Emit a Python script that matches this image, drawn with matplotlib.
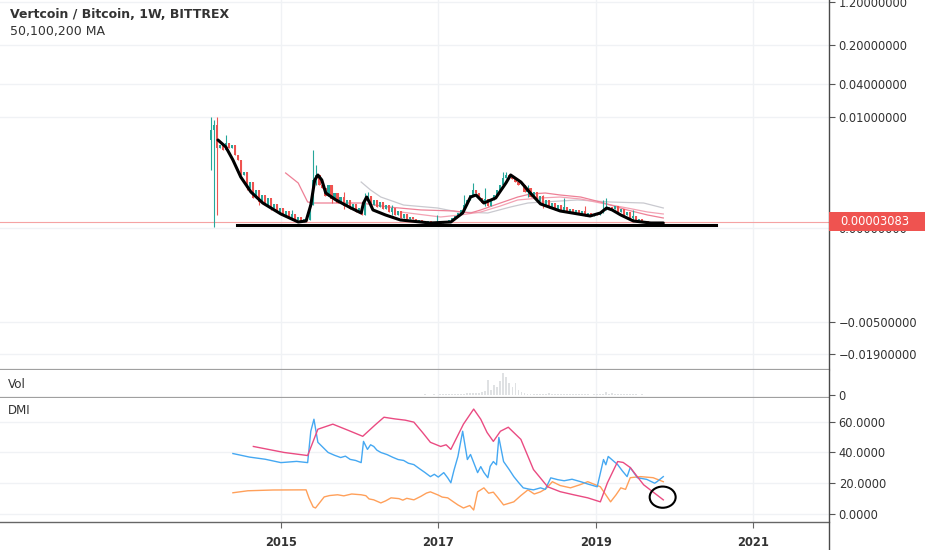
import numpy as np
import matplotlib
matplotlib.use('Agg')
import matplotlib.pyplot as plt
from matplotlib.ticker import FixedLocator, FuncFormatter
from matplotlib.lines import Line2D
from matplotlib.patches import Rectangle, Ellipse

plt.rcParams['font.family'] = ['DejaVu Sans']

# ---- candles (2-week steps, first one mid Feb 2014) ----
candle_start = 2014.11
candle_step = 14 / 365.25
first_open = 0.0038
closes = [
    0.00581, 0.00717, 0.00270, 0.00307, 0.00247, 0.00334, 0.00270, 0.00307, 0.00199, 0.00160,
    0.000808, 0.000929, 0.000429, 0.000578, 0.000249, 0.000386, 0.000195, 0.000295, 0.000160, 0.000249,
    0.000130, 0.000172, 0.0000946, 0.000130, 0.0000718, 0.000103, 0.0000516, 0.0000791, 0.0000395, 0.0000581,
    0.0000284, 0.0000454, 0.0000395, 0.000160, 0.000637, 0.000808, 0.000499, 0.000429, 0.000279, 0.000499,
    0.000234, 0.000329, 0.000183, 0.000263, 0.000150, 0.000221, 0.000121, 0.000172, 0.0000946, 0.000130,
    0.0000718, 0.000221, 0.000279, 0.000160, 0.000221, 0.000140, 0.000195, 0.000121, 0.000160, 0.0000946,
    0.000130, 0.0000718, 0.000103, 0.0000516, 0.0000791, 0.0000454, 0.0000581, 0.0000454, 0.0000338, 0.0000395,
    0.0000338, 0.0000284, 0.0000338, 0.0000284, 0.0000231, 0.0000284, 0.0000231, 0.0000284, 0.0000338, 0.0000395,
    0.0000516, 0.0000648, 0.0000867, 0.000112, 0.000160, 0.000221, 0.000295, 0.000386, 0.000329, 0.000249,
    0.000183, 0.000234, 0.000150, 0.000221, 0.000295, 0.000386, 0.000499, 0.000701, 0.000808, 0.000735,
    0.000669, 0.000578, 0.000499, 0.000499, 0.000347, 0.000429, 0.000263, 0.000347, 0.000208, 0.000279,
    0.000160, 0.000221, 0.000130, 0.000183, 0.000112, 0.000160, 0.000103, 0.000140, 0.0000946, 0.000121,
    0.0000867, 0.000112, 0.0000791, 0.000103, 0.0000718, 0.0000867, 0.0000648, 0.0000791, 0.0000718, 0.0000867,
    0.000112, 0.000130, 0.000140, 0.000121, 0.000150, 0.0000946, 0.000121, 0.0000718, 0.0000946, 0.0000516,
    0.0000648, 0.0000395, 0.0000454, 0.0000284, 0.0000338, 0.0000231, 0.0000284, 0.0000284, 0.0000231, 0.0000284,
    0.0000284, 0.00003083,
]
# wicks that stick out of the bodies (candle index, high, low)
wick_idx = [0, 1, 2, 5, 12, 16, 20, 27, 34, 35, 40, 44, 51, 52, 60, 75, 84, 87, 91, 97,
            98, 105, 110, 117, 124, 130, 131, 140]
wick_high = [0.01, 0.00885, 0.01, 0.0047, 0.000637, 0.000386, 0.000249, 0.000112, 0.00247, 0.00128,
             0.000429, 0.000347, 0.000329, 0.000347, 0.000160, 0.0000718, 0.000295, 0.000551, 0.000429, 0.000929,
             0.000929, 0.000499, 0.000295, 0.000249, 0.000150, 0.000221, 0.000249, 0.000112]
wick_low = [0.00102, 0.000004, 0.0000718, 0.00307, 0.000386, 0.000160, 0.000112, 0.0000395, 0.000160, 0.000499,
            0.000183, 0.000121, 0.0000718, 0.000221, 0.0000718, 0.0000181, 0.000130, 0.000386, 0.000150, 0.000499,
            0.000701, 0.000263, 0.000130, 0.0000946, 0.0000648, 0.0000867, 0.000112, 0.0000338]

last_price = 0.00003083
support_level = 0.0000133
support_years = [2014.44, 2020.53]

# ---- moving averages ----
ma_a_years = [2015.06, 2015.22, 2015.34, 2015.42, 2016.02, 2016.36, 2016.78, 2017.20, 2017.41, 2017.54,
              2017.79, 2018.01, 2018.17, 2018.36, 2018.55, 2018.81, 2019.06, 2019.40, 2019.66, 2019.86]
ma_a = [0.000888, 0.000551, 0.000195, 0.000183, 0.000183, 0.000140, 0.000112, 0.000103, 0.0000867, 0.000112,
        0.000183, 0.000263, 0.000312, 0.000329, 0.000295, 0.000263, 0.000195, 0.000112, 0.0000718, 0.0000516]
ma_b_years = [2016.52, 2017.03, 2017.28, 2017.54, 2017.79, 2018.01, 2018.30, 2018.55, 2018.81, 2019.06,
              2019.40, 2019.66, 2019.86]
ma_b = [0.0000946, 0.0000581, 0.0000718, 0.0000946, 0.000150, 0.000221, 0.000249, 0.000263, 0.000234, 0.000183,
        0.000130, 0.0000946, 0.0000791]
ma_c_years = [2016.02, 2016.14, 2016.27, 2016.56, 2016.99, 2017.25, 2017.63, 2017.92, 2018.14, 2018.34,
              2018.77, 2019.19, 2019.61, 2019.86]
ma_c = [0.000578, 0.000386, 0.000263, 0.000160, 0.000130, 0.0000946, 0.0000867, 0.000140, 0.000183, 0.000195,
        0.000221, 0.000195, 0.000183, 0.000130]

# ---- hand drawn black curve ----
curve_years = [2014.20, 2014.30, 2014.39, 2014.49, 2014.62, 2014.77, 2015.00, 2015.22, 2015.32, 2015.38,
               2015.43, 2015.47, 2015.52, 2015.57, 2015.70, 2015.89, 2016.02, 2016.05, 2016.09, 2016.13,
               2016.17, 2016.33, 2016.52, 2016.90, 2017.16, 2017.31, 2017.41, 2017.48, 2017.58, 2017.73,
               2017.86, 2017.92, 2018.05, 2018.17, 2018.30, 2018.55, 2018.93, 2019.06, 2019.14, 2019.21,
               2019.32, 2019.48, 2019.70, 2019.86]
curve_vals = [0.00380, 0.00282, 0.00160, 0.000735, 0.000347, 0.000183, 0.0000791, 0.0000284, 0.0000338, 0.000160,
              0.000637, 0.000808, 0.000637, 0.000329, 0.000221, 0.000130, 0.0000867, 0.000183, 0.000263, 0.000183,
              0.000112, 0.0000718, 0.0000395, 0.0000231, 0.0000284, 0.0000867, 0.000263, 0.000295, 0.000183, 0.000249,
              0.000551, 0.000808, 0.000578, 0.000329, 0.000172, 0.000103, 0.0000648, 0.0000867, 0.000130, 0.000112,
              0.0000718, 0.0000338, 0.0000231, 0.0000231]

# ---- volume (from mid 2016 on, same candle dates) ----
vol_first_idx = 62
volume = [0.4, 0.3, 0.5, 0.4, 0.3, 0.4, 0.5, 0.3, 0.4, 0.6, 0.5, 0.4, 0.6, 0.5, 0.7, 0.6, 0.8, 0.7, 0.9,
          1.0, 1.2, 1.5, 1.1, 2.0, 1.6, 2.2, 1.8, 2.5, 3.0,
          4.0, 15.0, 5.0, 10.0, 8.0, 14.0, 22.0, 18.0, 12.0, 8.0, 12.0, 5.0, 3.0,
          2.0, 1.5, 1.2, 1.0, 1.3, 1.1, 0.9, 1.0, 2.5, 1.0, 0.8, 0.9, 0.7, 0.8, 0.9, 0.7, 0.6, 0.8, 0.7,
          0.6, 0.7, 0.6, 0.5, 0.6, 0.7, 0.8, 1.0,
          3.0, 1.5, 2.0, 1.2, 1.0, 0.8, 0.9, 0.7, 0.6, 0.7, 0.6, 0.5, 0.6, 0.5, 0.4, 0.5, 0.4, 0.5, 0.4, 0.4, 0.3]

# ---- DMI ----
di_plus_years = [2014.39, 2014.60, 2014.80, 2015.00, 2015.20, 2015.34, 2015.38, 2015.42, 2015.47, 2015.60,
                 2015.68, 2015.76, 2015.82, 2015.88, 2015.95, 2016.02, 2016.05, 2016.10, 2016.14, 2016.18,
                 2016.22, 2016.27, 2016.35, 2016.42, 2016.49, 2016.56, 2016.62, 2016.69, 2016.76, 2016.83,
                 2016.90, 2016.95, 2017.00, 2017.07, 2017.12, 2017.16, 2017.20, 2017.25, 2017.31, 2017.37,
                 2017.41, 2017.50, 2017.54, 2017.58, 2017.63, 2017.66, 2017.70, 2017.74, 2017.77, 2017.83,
                 2017.90, 2017.96, 2018.02, 2018.08, 2018.15, 2018.21, 2018.30, 2018.36, 2018.43, 2018.52,
                 2018.60, 2018.70, 2018.81, 2018.90, 2019.02, 2019.10, 2019.13, 2019.16, 2019.28, 2019.34,
                 2019.40, 2019.44, 2019.53, 2019.65, 2019.75, 2019.78, 2019.86]
di_plus = [39.3, 37.0, 35.6, 33.4, 34.2, 33.4, 53.8, 61.6, 46.6, 40.0,
           38.2, 36.7, 37.6, 35.5, 34.8, 33.4, 47.2, 42.0, 45.0, 43.9,
           41.5, 40.0, 38.6, 36.9, 35.4, 34.8, 33.0, 32.1, 29.5, 27.0,
           24.3, 25.8, 24.0, 26.9, 23.5, 20.3, 28.5, 37.4, 53.8, 35.4,
           38.7, 26.9, 30.8, 27.0, 23.6, 31.0, 34.1, 32.0, 49.8, 34.1,
           29.0, 24.3, 20.5, 17.0, 16.2, 15.7, 17.0, 16.0, 23.5, 22.3,
           21.6, 22.6, 21.0, 19.5, 17.7, 35.4, 32.0, 37.4, 32.1, 28.0,
           24.3, 30.2, 23.6, 22.5, 20.0, 21.0, 24.3]
adx_years = [2014.65, 2015.04, 2015.34, 2015.47, 2015.66, 2015.85, 2016.04, 2016.20, 2016.31, 2016.45,
             2016.58, 2016.69, 2016.80, 2016.90, 2017.03, 2017.10, 2017.16, 2017.32, 2017.45, 2017.54,
             2017.62, 2017.70, 2017.79, 2017.89, 2018.05, 2018.21, 2018.39, 2018.55, 2018.72, 2018.90,
             2019.06, 2019.15, 2019.28, 2019.35, 2019.44, 2019.61, 2019.86]
adx = [43.9, 40.0, 38.0, 55.1, 58.4, 54.5, 50.5, 58.0, 62.9, 61.8,
       61.0, 59.7, 53.0, 46.6, 43.9, 45.0, 42.0, 58.4, 68.2, 61.6,
       53.0, 47.2, 53.8, 56.4, 48.5, 28.9, 17.7, 14.5, 12.5, 10.5,
       7.9, 20.3, 34.1, 33.5, 30.2, 19.0, 9.2]
di_minus_years = [2014.39, 2014.58, 2014.90, 2015.32, 2015.36, 2015.41, 2015.44, 2015.55, 2015.62, 2015.72,
                  2015.80, 2015.90, 2016.02, 2016.08, 2016.12, 2016.18, 2016.27, 2016.33, 2016.40, 2016.50,
                  2016.55, 2016.60, 2016.69, 2016.78, 2016.85, 2016.90, 2017.00, 2017.05, 2017.12, 2017.19,
                  2017.25, 2017.32, 2017.40, 2017.45, 2017.50, 2017.58, 2017.64, 2017.70, 2017.75, 2017.83,
                  2017.96, 2018.05, 2018.14, 2018.22, 2018.30, 2018.37, 2018.45, 2018.55, 2018.68, 2018.80,
                  2018.90, 2019.06, 2019.19, 2019.26, 2019.32, 2019.38, 2019.44, 2019.57, 2019.73, 2019.86]
di_minus = [13.8, 15.1, 15.6, 15.7, 10.0, 4.6, 3.9, 11.1, 12.0, 12.5,
            11.8, 13.0, 12.5, 11.9, 9.8, 9.2, 7.2, 8.5, 10.5, 10.0,
            9.0, 10.2, 9.2, 11.5, 13.6, 14.4, 12.3, 11.0, 10.5, 8.0,
            5.9, 3.9, 5.5, 2.6, 14.4, 17.0, 13.5, 14.2, 11.1, 5.9,
            7.9, 12.0, 15.7, 13.0, 14.4, 16.5, 21.0, 18.5, 17.0, 19.0,
            21.0, 17.7, 7.9, 12.5, 17.0, 16.0, 23.6, 24.3, 23.6, 21.0]

price_ticks = [-0.019, -0.005, 0.0, 0.01, 0.04, 0.2, 1.2]
dmi_ticks = [0, 20, 40, 60]
year_ticks = [2015, 2017, 2019, 2021]


def fwd(v):
    v = np.asarray(v, dtype=float)
    return np.sign(v) * np.log10(1 + np.abs(v) / 1e-4)


def inv(v):
    v = np.asarray(v, dtype=float)
    return np.sign(v) * 1e-4 * (10 ** np.abs(v) - 1)


W, H = 932, 550


def box(x0, y0, x1, y1):
    return [x0 / W, 1 - y1 / H, (x1 - x0) / W, (y1 - y0) / H]


fig = plt.figure(figsize=(W / 100, H / 100), dpi=100)
ax = fig.add_axes(box(0, 0, 829, 370))
axv = fig.add_axes(box(0, 370, 829, 398), sharex=ax)
axd = fig.add_axes(box(0, 398, 829, 522), sharex=ax)

txt = '#333333'
grid_c = '#f0f2f5'

for a in (ax, axv, axd):
    a.set_facecolor('white')
    a.spines['left'].set_visible(False)
    a.spines['top'].set_visible(False)
    a.spines['right'].set_visible(False)
    a.yaxis.tick_right()
    a.tick_params(axis='y', direction='out', length=4, width=0.8, colors='#555555',
                  labelsize=8.3, labelcolor=txt, pad=3)
    a.set_xlim(2011.43, 2021.966)
    for yr in year_ticks:
        a.axvline(yr, color=grid_c, lw=1, zorder=0)

ax.spines['bottom'].set_color('#a0a0a0')
ax.spines['bottom'].set_linewidth(1.6)
axv.spines['bottom'].set_color('#a0a0a0')
axv.spines['bottom'].set_linewidth(1.6)
axd.spines['bottom'].set_color('#666666')
axd.spines['bottom'].set_linewidth(1.0)
ax.tick_params(axis='x', bottom=False, labelbottom=False)
axv.tick_params(axis='x', bottom=False, labelbottom=False)

# ---- main price panel ----
ax.set_yscale('function', functions=(fwd, inv))
ax.set_ylim(-0.0369, 1.327)
ax.yaxis.set_major_locator(FixedLocator(price_ticks))
ax.yaxis.set_major_formatter(FuncFormatter(lambda v, p: f'{v:.8f}'.replace('-', '\u2212')))
for t in price_ticks:
    ax.axhline(t, color=grid_c, lw=1, zorder=0)

x_c = candle_start + np.arange(len(closes)) * candle_step
opens = [first_open] + closes[:-1]
highs = [max(o, c) for o, c in zip(opens, closes)]
lows = [min(o, c) for o, c in zip(opens, closes)]
for i, h, l in zip(wick_idx, wick_high, wick_low):
    highs[i] = max(highs[i], h)
    lows[i] = min(lows[i], l)
colors = ['#26a69a' if c >= o else '#ef5350' for o, c in zip(opens, closes)]

ax.plot(ma_c_years, ma_c, color='#c9c9cf', lw=0.9, zorder=2)
ax.plot(ma_b_years, ma_b, color='#f3a3b4', lw=0.9, zorder=2)
ax.plot(ma_a_years, ma_a, color='#ee8096', lw=0.9, zorder=2)
ax.axhline(last_price, color='#f5a3a3', lw=0.8, zorder=1)

ax.vlines(x_c, lows, highs, colors=colors, lw=0.8, zorder=3)
ax.bar(x_c, np.array(closes) - np.array(opens), bottom=opens, width=0.027,
       color=colors, linewidth=0, zorder=3)

ax.plot(curve_years, curve_vals, color='black', lw=2.2, solid_capstyle='round',
        solid_joinstyle='round', zorder=5)
ax.plot(support_years, [support_level, support_level], color='black', lw=2.2, zorder=5)

# ---- volume panel ----
axv.set_ylim(-3, 25)
axv.yaxis.set_major_locator(FixedLocator([0]))
axv.bar(x_c[vol_first_idx:vol_first_idx + len(volume)], volume, width=0.024,
        color='#dfe1e3', linewidth=0)

# ---- DMI panel ----
axd.set_ylim(-5.2, 75.4)
axd.yaxis.set_major_locator(FixedLocator(dmi_ticks))
axd.yaxis.set_major_formatter(FuncFormatter(lambda v, p: f'{v:.4f}'))
for t in dmi_ticks:
    axd.axhline(t, color=grid_c, lw=1, zorder=0)
axd.plot(di_minus_years, di_minus, color='#ffa05a', lw=1.0)
axd.plot(di_plus_years, di_plus, color='#45a8f2', lw=1.0)
axd.plot(adx_years, adx, color='#ea4b82', lw=1.0)
axd.add_patch(Ellipse((2019.852, 10.95), 0.33, 13.8, fill=False, ec='black', lw=1.5, zorder=6))

axd.xaxis.set_major_locator(FixedLocator(year_ticks))
axd.xaxis.set_major_formatter(FuncFormatter(lambda v, p: f'{int(round(v))}'))
axd.tick_params(axis='x', direction='out', length=4, width=0.8, colors='#666666',
                labelsize=8.3, labelcolor=txt, pad=6)
for lab in axd.get_xticklabels():
    lab.set_fontweight('bold')

# ---- texts ----
fig.text(10 / W, 1 - 15 / H, 'Vertcoin / Bitcoin, 1W, BITTREX', fontsize=9, fontweight='bold',
         color=txt, va='center', ha='left')
fig.text(10 / W, 1 - 32 / H, '50,100,200 MA', fontsize=9, color=txt, va='center', ha='left')
fig.text(8 / W, 1 - 385 / H, 'Vol', fontsize=8.6, color=txt, va='center', ha='left')
fig.text(8 / W, 1 - 410 / H, 'DMI', fontsize=8.6, color=txt, va='center', ha='left')

# right price axis line
fig.add_artist(Line2D([829 / W, 829 / W], [0, 1], transform=fig.transFigure, color='#4a4a4a', lw=1))

# last price label
fig.canvas.draw()
y_disp = ax.transData.transform((2015, last_price))[1]
y_fig = y_disp / H
fig.add_artist(Rectangle((829 / W, y_fig - 9.5 / H), 96 / W, 19 / H, transform=fig.transFigure,
                         facecolor='#ef5350', edgecolor='none', zorder=4))
fig.text(840 / W, y_fig, '0.00003083', fontsize=8.3, color='white', va='center', ha='left', zorder=5)

fig.savefig('out.png', dpi=100)
